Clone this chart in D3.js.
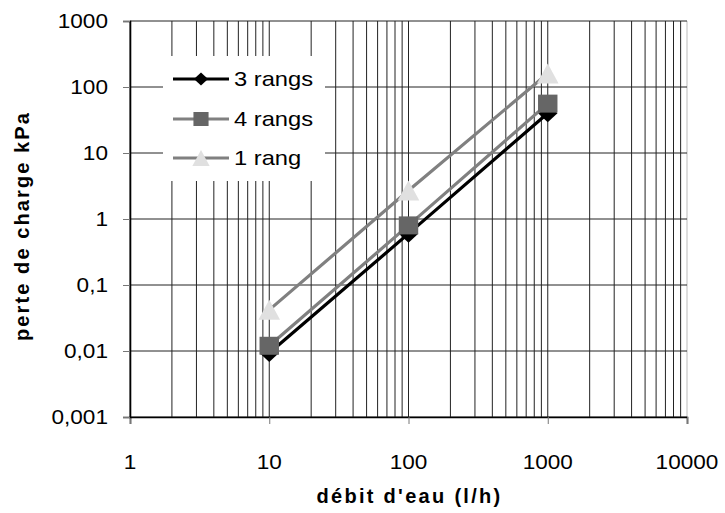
<!DOCTYPE html>
<html>
<head>
<meta charset="utf-8">
<script src="https://cdn.jsdelivr.net/npm/d3@7"></script>
<style>
  body { margin: 0; background: #fff; }
  text { font-family: "Liberation Sans", Arial, sans-serif; fill: #000; }
</style>
</head>
<body>
<div id="chart"></div>
<script>
var flows = [10, 100, 1000];
var rang3 = [0.0093, 0.6, 40];
var rang4 = [0.012, 0.8, 56];
var rang1 = [0.042, 2.7, 160];
var seriesNames = ["3 rangs", "4 rangs", "1 rang"];
var xTicks = [1, 10, 100, 1000, 10000];
var yTicks = [0.001, 0.01, 0.1, 1, 10, 100, 1000];
var yTickLabels = ["0,001", "0,01", "0,1", "1", "10", "100", "1000"];

var W = 725, H = 513;
var plotL = 130, plotR = 687, plotT = 21, plotB = 417;
// the original chart is stretched sideways, glyphs too
var sx = 1.13;

var svg = d3.select('#chart').append('svg')
  .attr('width', W)
  .attr('height', H)

var x = d3.scaleLog().domain([1, 10000]).range([plotL, plotR]);
var y = d3.scaleLog().domain([0.001, 1000]).range([plotB, plotT]);

// vertical grid: 1..9 in each decade
var vgrid = [];
for (var d = 1; d < 10000; d *= 10) {
  for (var k = 1; k < 10; k++) vgrid.push(d * k);
}
vgrid.push(10000);

svg.selectAll('.vgrid')
  .data(vgrid).enter().append('line')
  .attr('class', 'vgrid')
  .attr('x1', function(d){ return x(d) })
  .attr('x2', function(d){ return x(d) })
  .attr('y1', plotT)
  .attr('y2', plotB)
  .attr('stroke', function(d){ return d === 10000 ? '#bbb' : '#222' })
  .attr('stroke-width', 1)

svg.selectAll('.hgrid')
  .data(yTicks).enter().append('line')
  .attr('class', 'hgrid')
  .attr('x1', plotL)
  .attr('x2', plotR)
  .attr('y1', function(d){ return y(d) })
  .attr('y2', function(d){ return y(d) })
  .attr('stroke', '#222')
  .attr('stroke-width', 1)

// axes
var xAxis = svg.append('g')
  .attr('transform', 'translate(0,' + plotB + ')')
  .call(d3.axisBottom(x).tickValues(xTicks).tickSize(7).tickFormat(''))
xAxis.select('.domain').attr('stroke', '#000').attr('stroke-width', 1.6)
xAxis.selectAll('.tick line').attr('stroke', '#777')

var yAxis = svg.append('g')
  .attr('transform', 'translate(' + plotL + ',0)')
  .call(d3.axisLeft(y).tickValues(yTicks).tickSize(7).tickFormat(''))
yAxis.select('.domain').attr('stroke', '#000').attr('stroke-width', 1.6)
yAxis.selectAll('.tick line').attr('stroke', '#777')

// tick labels
svg.selectAll('.xlab')
  .data(xTicks).enter().append('text')
  .attr('class', 'xlab')
  .attr('transform', function(d){ return 'translate(' + x(d) + ',469) scale(' + sx + ',1)' })
  .attr('text-anchor', 'middle')
  .attr('font-size', '20px')
  .text(function(d){ return d })

svg.selectAll('.ylab')
  .data(yTicks).enter().append('text')
  .attr('class', 'ylab')
  .attr('transform', function(d){ return 'translate(108,' + (y(d) + 7) + ') scale(' + sx + ',1)' })
  .attr('text-anchor', 'end')
  .attr('font-size', '20px')
  .text(function(d, i){ return yTickLabels[i] })

// axis titles
svg.append('text')
  .attr('transform', 'translate(' + ((plotL + plotR) / 2 + 1) + ',503)')
  .attr('text-anchor', 'middle')
  .attr('font-size', '20px')
  .attr('font-weight', 'bold')
  .attr('letter-spacing', '2.3px')
  .text("débit d'eau (l/h)")

svg.append('text')
  .attr('transform', 'translate(29,226) rotate(-90)')
  .attr('text-anchor', 'middle')
  .attr('font-size', '20px')
  .attr('font-weight', 'bold')
  .attr('letter-spacing', '2.1px')
  .text('perte de charge kPa')

// series
var series = [
  { name: seriesNames[0], values: rang3, line: '#000', fill: '#000', shape: 'diamond' },
  { name: seriesNames[1], values: rang4, line: '#808080', fill: '#666', shape: 'square' },
  { name: seriesNames[2], values: rang1, line: '#808080', fill: '#e0e0e0', shape: 'triangle' }
];

var marker = function(shape, s){
  var w = s * 1.08;
  if (shape === 'diamond') return 'M0,' + (-s) + 'L' + w + ',0L0,' + s + 'L' + (-w) + ',0Z';
  if (shape === 'square') return 'M' + (-w) + ',' + (-s) + 'H' + w + 'V' + s + 'H' + (-w) + 'Z';
  return 'M0,' + (-s) + 'L' + w + ',' + s + 'L' + (-w) + ',' + s + 'Z';
}
var plotSize = { diamond: 9, square: 9, triangle: 10 };
var legSize = { diamond: 6.5, square: 7, triangle: 8 };

var line = d3.line()
  .x(function(d){ return x(d[0]) })
  .y(function(d){ return y(d[1]) })

series.forEach(function(s){
  var pts = flows.map(function(f, i){ return [f, s.values[i]] });
  svg.append('path')
    .attr('d', line(pts))
    .attr('fill', 'none')
    .attr('stroke', s.line)
    .attr('stroke-width', 3.2)
  svg.selectAll('.m-' + s.shape)
    .data(pts).enter().append('path')
    .attr('class', 'm-' + s.shape)
    .attr('transform', function(d){ return 'translate(' + x(d[0]) + ',' + y(d[1]) + ')' })
    .attr('d', marker(s.shape, plotSize[s.shape]))
    .attr('fill', s.fill)
})

// legend
var legend = svg.append('g')
legend.append('rect')
  .attr('x', 163)
  .attr('y', 56)
  .attr('width', 162)
  .attr('height', 125)
  .attr('fill', '#fff')

var rowY = [79, 119, 158];
var rows = legend.selectAll('.legRow')
  .data(series).enter().append('g')
  .attr('class', 'legRow')
  .attr('transform', function(d, i){ return 'translate(0,' + rowY[i] + ')' })

rows.append('line')
  .attr('x1', 173).attr('x2', 229)
  .attr('y1', 0).attr('y2', 0)
  .attr('stroke', function(d){ return d.line })
  .attr('stroke-width', 3.2)
rows.append('path')
  .attr('transform', 'translate(201,0)')
  .attr('d', function(d){ return marker(d.shape, legSize[d.shape]) })
  .attr('fill', function(d){ return d.fill })
rows.append('text')
  .attr('transform', 'translate(234,7) scale(' + sx + ',1)')
  .attr('font-size', '21px')
  .text(function(d){ return d.name })
</script>
</body>
</html>
